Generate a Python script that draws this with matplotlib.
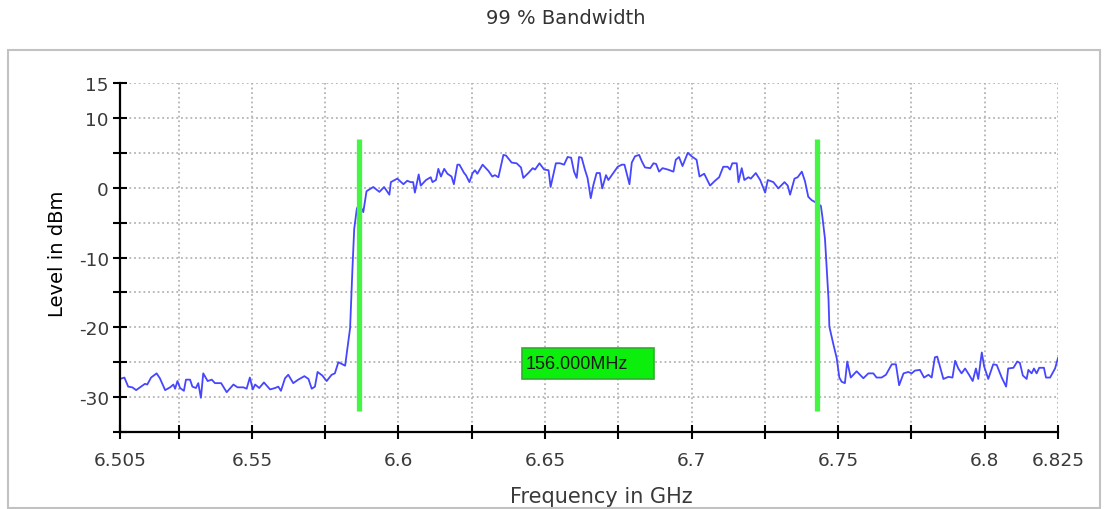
import matplotlib
matplotlib.use("Agg")
import matplotlib.pyplot as plt
from matplotlib.patches import Rectangle

# spectrum trace
freq_ghz = [
    6.5050, 6.5065, 6.5078, 6.5092, 6.5105, 6.5122, 6.5135, 6.5143, 6.5156, 6.5175,
    6.5186, 6.5204, 6.5221, 6.5232, 6.5238, 6.5246, 6.5255, 6.5268, 6.5275, 6.5289,
    6.5297, 6.5309, 6.5317, 6.5326, 6.5334, 6.5349, 6.5363, 6.5374, 6.5395, 6.5414,
    6.5437, 6.5451, 6.5471, 6.5482, 6.5493, 6.5503, 6.5511, 6.5525, 6.5541, 6.5562,
    6.5579, 6.5590, 6.5599, 6.5613, 6.5624, 6.5641, 6.5658, 6.5679, 6.5693, 6.5704,
    6.5715, 6.5724, 6.5740, 6.5755, 6.5772, 6.5783, 6.5795, 6.5818, 6.5835, 6.5843,
    6.5849, 6.5858, 6.5866, 6.5880, 6.5891, 6.5914, 6.5935, 6.5951, 6.5969, 6.5974,
    6.5996, 6.6017, 6.6030, 6.6041, 6.6050, 6.6056, 6.6069, 6.6076, 6.6094, 6.6110,
    6.6116, 6.6128, 6.6136, 6.6145, 6.6156, 6.6167, 6.6181, 6.6189, 6.6201, 6.6208,
    6.6224, 6.6230, 6.6242, 6.6253, 6.6261, 6.6269, 6.6287, 6.6307, 6.6320, 6.6329,
    6.6341, 6.6358, 6.6367, 6.6386, 6.6403, 6.6418, 6.6426, 6.6443, 6.6458, 6.6466,
    6.6481, 6.6497, 6.6512, 6.6519, 6.6537, 6.6551, 6.6565, 6.6577, 6.6589, 6.6599,
    6.6608, 6.6616, 6.6625, 6.6636, 6.6645, 6.6656, 6.6665, 6.6676, 6.6687, 6.6695,
    6.6708, 6.6716, 6.6733, 6.6748, 6.6762, 6.6771, 6.6788, 6.6796, 6.6807, 6.6821,
    6.6830, 6.6841, 6.6859, 6.6870, 6.6879, 6.6889, 6.6901, 6.6919, 6.6938, 6.6946,
    6.6957, 6.6969, 6.6987, 6.7000, 6.7017, 6.7027, 6.7043, 6.7063, 6.7080, 6.7094,
    6.7108, 6.7123, 6.7131, 6.7139, 6.7154, 6.7160, 6.7171, 6.7180, 6.7194, 6.7202,
    6.7219, 6.7234, 6.7251, 6.7260, 6.7279, 6.7296, 6.7317, 6.7328, 6.7336, 6.7351,
    6.7362, 6.7376, 6.7387, 6.7398, 6.7410, 6.7419, 6.7430, 6.7441, 6.7446, 6.7455,
    6.7467, 6.7470, 6.7484, 6.7495, 6.7504, 6.7512, 6.7523, 6.7531, 6.7543, 6.7563,
    6.7586, 6.7603, 6.7620, 6.7631, 6.7648, 6.7663, 6.7683, 6.7697, 6.7708, 6.7723,
    6.7739, 6.7751, 6.7762, 6.7779, 6.7793, 6.7808, 6.7819, 6.7830, 6.7838, 6.7859,
    6.7876, 6.7890, 6.7899, 6.7910, 6.7921, 6.7933, 6.7948, 6.7959, 6.7970, 6.7978,
    6.7990, 6.7998, 6.8012, 6.8029, 6.8041, 6.8058, 6.8073, 6.8080, 6.8098, 6.8111,
    6.8120, 6.8130, 6.8143, 6.8149, 6.8160, 6.8168, 6.8177, 6.8186, 6.8202, 6.8209,
    6.8223, 6.8240, 6.8250,
]
level_dbm = [
    -27.4, -27.2, -28.5, -28.6, -29.0, -28.5, -28.1, -28.2, -27.2, -26.6,
    -27.3, -29.0, -28.6, -28.2, -28.8, -27.7, -28.7, -29.1, -27.5, -27.5,
    -28.5, -28.7, -28.0, -30.1, -26.6, -27.7, -27.5, -28.0, -28.0, -29.3,
    -28.2, -28.6, -28.6, -28.8, -27.2, -28.9, -28.2, -28.7, -27.9, -28.9,
    -28.7, -28.5, -29.1, -27.3, -26.8, -28.0, -27.5, -27.0, -27.4, -28.8,
    -28.5, -26.4, -26.9, -27.7, -26.8, -26.6, -25.0, -25.5, -20.1, -11.6,
    -5.9, -3.0, -2.3, -3.5, -0.5, 0.1, -0.6, 0.1, -1.0, 0.8,
    1.3, 0.5, 1.0, 0.8, 0.8, -0.7, 1.9, 0.3, 1.1, 1.5,
    0.8, 1.1, 2.7, 1.6, 2.7, 2.0, 1.6, 0.5, 3.3, 3.3,
    2.1, 1.8, 0.8, 2.1, 2.5, 2.0, 3.3, 2.4, 1.6, 1.8,
    1.5, 4.7, 4.6, 3.6, 3.5, 2.9, 1.4, 2.1, 2.8, 2.6,
    3.5, 2.6, 2.5, 0.1, 3.5, 3.5, 3.3, 4.4, 4.3, 2.3,
    1.4, 4.4, 4.3, 2.6, 1.4, -1.5, 0.4, 2.1, 2.1, -0.1,
    1.8, 1.1, 2.1, 3.0, 3.3, 3.3, 0.5, 3.6, 4.5, 4.7,
    3.8, 2.9, 2.8, 3.5, 3.4, 2.3, 2.8, 2.6, 2.3, 4.0,
    4.4, 3.1, 5.0, 4.5, 4.0, 1.6, 2.0, 0.3, 1.0, 1.5,
    3.0, 3.0, 2.6, 3.5, 3.5, 0.8, 2.8, 1.1, 1.5, 1.3,
    2.1, 1.1, -0.7, 1.1, 0.8, -0.1, 0.8, 0.3, -1.0, 1.3,
    1.5, 2.3, 0.9, -1.3, -1.8, -2.0, -2.3, -2.6, -4.1, -7.3,
    -15.9, -19.9, -22.5, -24.4, -27.2, -27.8, -28.0, -24.9, -27.2, -26.3,
    -27.3, -26.6, -26.6, -27.2, -27.2, -26.8, -25.3, -25.3, -28.3, -26.6,
    -26.4, -26.6, -26.2, -26.1, -27.2, -26.8, -27.2, -24.3, -24.2, -27.4,
    -27.1, -27.2, -24.8, -25.9, -26.6, -25.9, -26.9, -27.7, -25.9, -27.4,
    -23.6, -25.6, -27.4, -25.3, -25.4, -27.2, -28.5, -25.9, -25.8, -24.9,
    -25.1, -26.9, -27.4, -26.1, -26.6, -25.9, -26.6, -25.8, -25.8, -27.2,
    -27.2, -25.9, -24.4,
]

# 99 % bandwidth markers
bw_lo = 6.5867
bw_hi = 6.7427
marker_top = 7.0
marker_bottom = -32.0
bw_text = "156.000MHz"
box_x = [6.6422, 6.6872]
box_y = [-27.4, -23.0]

xticks = [6.505, 6.525, 6.55, 6.575, 6.6, 6.625, 6.65, 6.675, 6.7, 6.725, 6.75, 6.775, 6.8, 6.825]
xticklabels = ['6.505', '', '6.55', '', '6.6', '', '6.65', '', '6.7', '', '6.75', '', '6.8', '6.825']
yticks = [-35, -30, -25, -20, -15, -10, -5, 0, 5, 10, 15]
yticklabels = ['', '-30', '', '-20', '', '-10', '', '0', '', '10', '15']

plt.rcParams['font.family'] = ['DejaVu Sans']

fig = plt.figure(figsize=(11.05, 5.1), dpi=100)
ax = fig.add_axes([120 / 1105, 1 - 433 / 510, 938 / 1105, 349 / 510])

# outer panel frame
fig.patches.append(Rectangle((8 / 1105, 1 / 510), 1092 / 1105, 458 / 510,
                             transform=fig.transFigure, fill=False,
                             ec='#c2c2c2', lw=1.5))

ax.plot(freq_ghz, level_dbm, color='#4646ff', lw=1.3, zorder=3)

ax.vlines([bw_lo, bw_hi], marker_bottom, marker_top, colors='#44f544', lw=3.8, zorder=4)

ax.add_patch(Rectangle((box_x[0], box_y[0]), box_x[1] - box_x[0], box_y[1] - box_y[0],
                       fc='#0cee0c', ec='#2fae2f', lw=1.2, zorder=4))
ax.text(box_x[0] + 0.0013, (box_y[0] + box_y[1]) / 2, bw_text, ha='left', va='center',
        fontsize=13, color='#1a1a1a', zorder=5,
        family=['Liberation Sans Narrow', 'Liberation Sans'])

ax.set_xlim(6.505, 6.825)
ax.set_ylim(-35, 15)
ax.set_xticks(xticks)
ax.set_xticklabels(xticklabels)
ax.set_yticks(yticks)
ax.set_yticklabels(yticklabels)

ax.grid(True, color='#b4b4b4', linestyle=(0, (1, 1.6)), lw=1.3, zorder=1)
ax.set_axisbelow(True)

for side in ['top', 'right']:
    ax.spines[side].set_visible(False)
for side in ['left', 'bottom']:
    ax.spines[side].set_linewidth(1.6)
    ax.spines[side].set_color('black')
    ax.spines[side].set_zorder(5)

ax.tick_params(axis='both', direction='inout', length=10, width=1.5, color='black',
               labelsize=13.3, labelcolor='#3a3a3a')
ax.tick_params(axis='x', pad=9)
ax.tick_params(axis='y', pad=3)

ax.set_ylabel('Level in dBm', fontsize=14, color='black')
ax.yaxis.set_label_coords(-0.057, 0.513)
ax.set_xlabel('Frequency in GHz', fontsize=15, color='#3a3a3a')
ax.xaxis.set_label_coords(0.513, -0.155)

fig.text(566 / 1105, 1 - 19 / 510, '99 % Bandwidth', ha='center', va='center',
         fontsize=14, color='#333333')

plt.savefig('out.png', dpi=100)
